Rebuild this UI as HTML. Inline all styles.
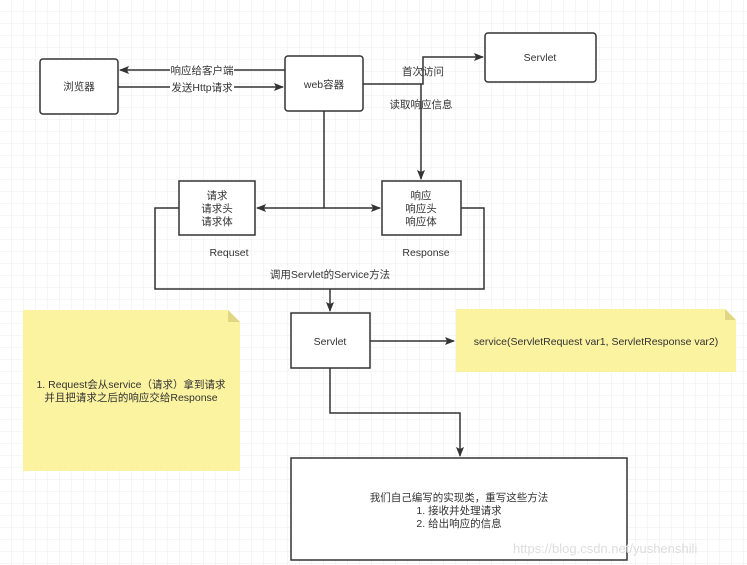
<!DOCTYPE html>
<html><head><meta charset="utf-8"><style>
html,body{margin:0;padding:0;background:#fff}
svg{display:block}
text{font-family:"Liberation Sans","Noto Sans CJK SC",sans-serif;font-size:10.5px;fill:#333}
</style></head><body>
<svg width="747" height="565" viewBox="0 0 747 565" xmlns="http://www.w3.org/2000/svg">
<defs>
<pattern id="g" width="12" height="12" patternUnits="userSpaceOnUse"><path d="M12 0V12H0" fill="none" stroke="#ececec" stroke-width="1"/></pattern>
<marker id="a" markerWidth="10" markerHeight="8" refX="9" refY="4" orient="auto" markerUnits="userSpaceOnUse"><path d="M0,0 L10,4 L0,8 L2,4z" fill="#333"/></marker>
</defs>
<rect width="747" height="565" fill="url(#g)"/>
<g fill="none" stroke="#333" stroke-width="1.5">
<rect x="40" y="59" width="78" height="55" rx="3" fill="#fff"/>
<rect x="285" y="56" width="78" height="55" rx="3" fill="#fff"/>
<rect x="485" y="33" width="111" height="49" rx="3" fill="#fff"/>
<rect x="179" y="181" width="76" height="54" fill="#fff"/>
<rect x="382" y="181" width="79" height="54" fill="#fff"/>
<rect x="291" y="313" width="79" height="55" fill="#fff"/>
<rect x="291" y="458" width="336" height="102" fill="#fff"/>
<path d="M285 70H120" marker-end="url(#a)"/>
<path d="M118 87H283" marker-end="url(#a)"/>
<path d="M363 84H423V57H483" marker-end="url(#a)"/>
<path d="M421 84V179" marker-end="url(#a)"/>
<path d="M324 111V208"/>
<path d="M324 208H257" marker-end="url(#a)"/>
<path d="M324 208H380" marker-end="url(#a)"/>
<path d="M179 208H155V289H484V208H461"/>
<path d="M330 289V311" marker-end="url(#a)"/>
<path d="M370 341H454" marker-end="url(#a)"/>
<path d="M330 368V413H460V456" marker-end="url(#a)"/>
</g>
<path d="M456 309H725L736 320V372H456Z" fill="#fbf3a0"/>
<path d="M725 309V320H736Z" fill="#e0d684"/>
<path d="M23 310H228L240 322V471H23Z" fill="#fbf3a0"/>
<path d="M228 310V322H240Z" fill="#e0d684"/>
<rect x="170" y="64" width="64" height="12" fill="#fff"/>
<rect x="170" y="81" width="64" height="12" fill="#fff"/>
<text x="202" y="74" text-anchor="middle">响应给客户端</text>
<text x="202" y="91" text-anchor="middle">发送Http请求</text>
<text x="79" y="90" text-anchor="middle">浏览器</text>
<text x="324" y="88" text-anchor="middle">web容器</text>
<text x="540" y="61" text-anchor="middle">Servlet</text>
<text x="423" y="75" text-anchor="middle">首次访问</text>
<text x="421" y="108" text-anchor="middle">读取响应信息</text>
<text x="217" y="199" text-anchor="middle">请求</text>
<text x="217" y="212" text-anchor="middle">请求头</text>
<text x="217" y="225" text-anchor="middle">请求体</text>
<text x="421" y="199" text-anchor="middle">响应</text>
<text x="421" y="212" text-anchor="middle">响应头</text>
<text x="421" y="225" text-anchor="middle">响应体</text>
<text x="229" y="256" text-anchor="middle">Requset</text>
<text x="426" y="256" text-anchor="middle">Response</text>
<text x="330" y="278" text-anchor="middle">调用Servlet的Service方法</text>
<text x="330" y="345" text-anchor="middle">Servlet</text>
<text x="596" y="345" text-anchor="middle">service(ServletRequest var1, ServletResponse var2)</text>
<text x="131" y="388" text-anchor="middle">1. Request会从service（请求）拿到请求</text>
<text x="131" y="401" text-anchor="middle">并且把请求之后的响应交给Response</text>
<text x="459" y="501" text-anchor="middle">我们自己编写的实现类，重写这些方法</text>
<text x="459" y="514" text-anchor="middle">1. 接收并处理请求</text>
<text x="459" y="527" text-anchor="middle">2. 给出响应的信息</text>
<text x="513" y="553" style="font-size:13px;fill:#ddd">https://blog.csdn.net/yushenshili</text>
</svg>
</body></html>
